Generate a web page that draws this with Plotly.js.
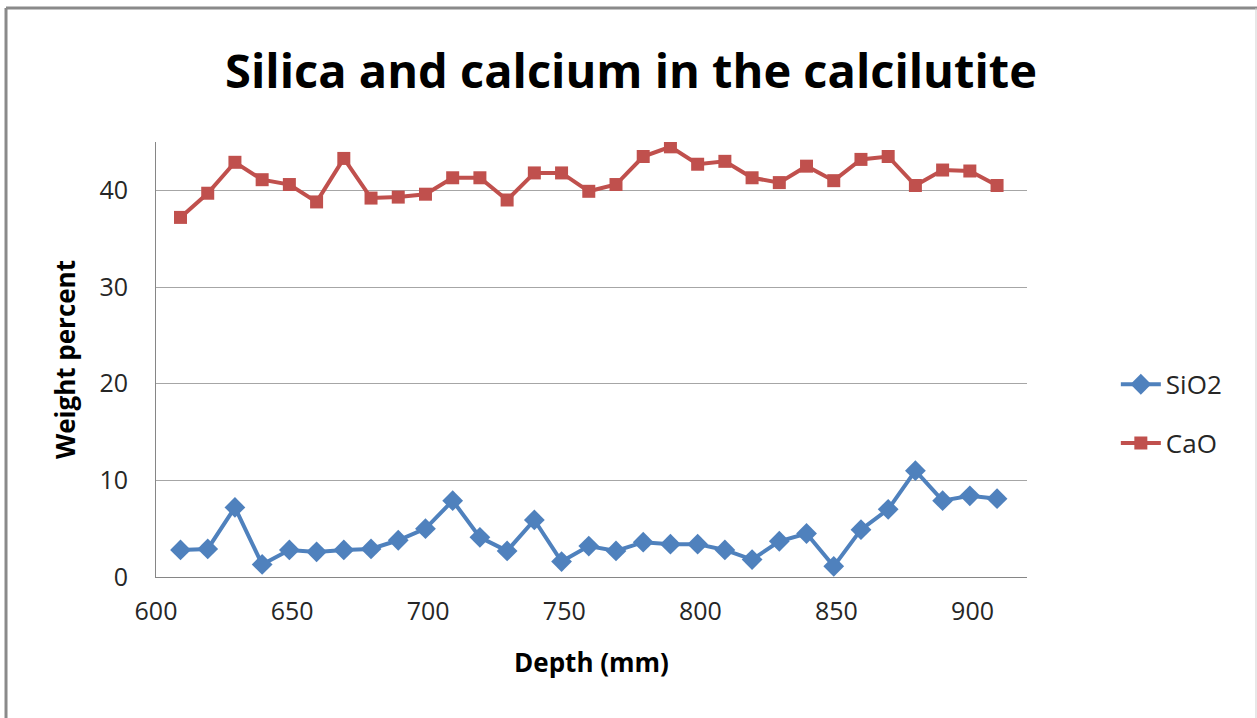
<!DOCTYPE html>
<html>
<head>
<meta charset="utf-8">
<script src="https://cdn.plot.ly/plotly-3.0.1.min.js"></script>
<style>
html,body{margin:0;padding:0;background:#fff;}
#chart{width:1257px;height:718px;}
</style>
</head>
<body>
<div id="chart"></div>
<script>
// Depth (mm)
const depth = [609,619,629,639,649,659,669,679,689,699,709,719,729,739,749,759,769,779,789,799,809,819,829,839,849,859,869,879,889,899,909];
// SiO2 weight percent
const sio2 = [2.8,2.9,7.2,1.3,2.8,2.6,2.8,2.9,3.8,5.0,7.9,4.1,2.7,5.9,1.6,3.2,2.7,3.6,3.4,3.4,2.8,1.8,3.7,4.5,1.1,4.9,7.0,11.0,7.9,8.4,8.1];
// CaO weight percent
const cao = [37.2,39.7,42.9,41.1,40.6,38.8,43.3,39.2,39.3,39.6,41.3,41.3,39.0,41.8,41.8,39.9,40.6,43.5,44.5,42.7,43.0,41.3,40.8,42.5,41.0,43.2,43.5,40.5,42.1,42.0,40.5];
const seriesNames = ["SiO2","CaO"];
const xTicks = [600,650,700,750,800,850,900];
const yTicks = [0,10,20,30,40];

const FONT = "Open Sans, Liberation Sans, sans-serif";

const traces = [
  {x: depth, y: sio2, name: seriesNames[0], type: "scatter", mode: "lines+markers",
   legendgroup: "a",
   line: {color: "#4F81BD", width: 4},
   marker: {symbol: "diamond", size: 16, color: "#4F81BD"}},
  {x: depth, y: cao, name: seriesNames[1], type: "scatter", mode: "lines+markers",
   legendgroup: "b",
   line: {color: "#C0504D", width: 4},
   marker: {symbol: "square", size: 13, color: "#C0504D"}}
];

const layout = {
  width: 1257, height: 718,
  margin: {l: 156, r: 230, t: 142, b: 141},
  paper_bgcolor: "#ffffff", plot_bgcolor: "#ffffff",
  font: {family: FONT, color: "#262626"},
  title: {text: "Silica and calcium in the calcilutite", font: {family: FONT, size: 47, color: "#000", weight: "bold"},
          x: 0.502, xref: "container", xanchor: "center", y: 0.9, yref: "container", yanchor: "middle"},
  xaxis: {range: [600, 920], tickvals: xTicks, ticktext: xTicks.map(String),
          showgrid: false, zeroline: false, showline: true, linecolor: "#868686", linewidth: 1,
          ticks: "", tickfont: {size: 25, color: "#262626"}, ticklabelstandoff: 12,
          title: {text: "Depth (mm)", font: {size: 26, color: "#000", weight: "bold"}, standoff: 27}},
  yaxis: {range: [0, 45], tickvals: yTicks, ticktext: yTicks.map(String),
          showgrid: true, gridcolor: "#a6a6a6", gridwidth: 1, zeroline: false,
          showline: true, linecolor: "#868686", linewidth: 1, ticks: "",
          tickfont: {size: 25, color: "#262626"}, ticklabelstandoff: 22,
          title: {text: "Weight percent", font: {size: 26, color: "#000", weight: "bold"}, standoff: 16}},
  legend: {x: 1.102, xanchor: "left", y: 0.375, yanchor: "middle", font: {size: 26, color: "#262626"},
           tracegroupgap: 22, bgcolor: "rgba(0,0,0,0)", itemwidth: 40},
  showlegend: true,
  shapes: [
    {type: "line", xref: "paper", yref: "paper", x0: -0.1722, x1: -0.1722, y0: -0.33, y1: 1.308, line: {color: "#8a8a8a", width: 3}},
    {type: "line", xref: "paper", yref: "paper", x0: -0.1722, x1: 1.27, y0: 1.308, y1: 1.308, line: {color: "#8a8a8a", width: 3}},
    {type: "line", xref: "paper", yref: "paper", x0: 1.2629, x1: 1.2629, y0: -0.33, y1: 1.308, line: {color: "#d0d0d0", width: 1}}
  ]
};

Plotly.newPlot("chart", traces, layout, {displayModeBar: false, responsive: false});
</script>
</body>
</html>
